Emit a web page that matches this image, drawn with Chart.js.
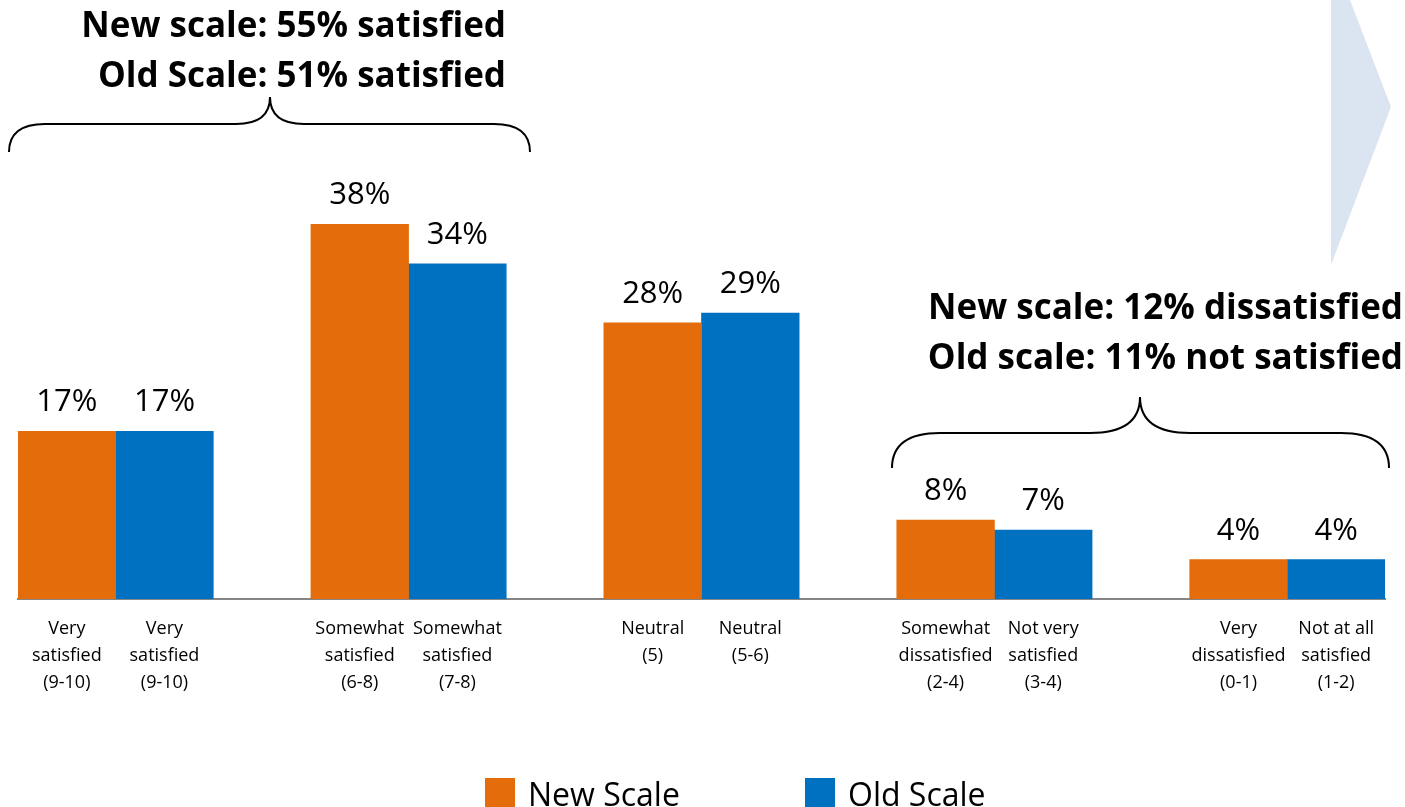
<!DOCTYPE html>
<html>
<head>
<meta charset="utf-8">
<script src="https://cdn.jsdelivr.net/npm/chart.js@4.4.1/dist/chart.umd.min.js"></script>
<style>
	body { margin: 0; background: #fff; }
	canvas { display: block; }
</style>
</head>
<body>
<canvas id="scaleChart" width="1405" height="807"></canvas>
<script>
const newScale = [17, 38, 28, 8, 4];
const oldScale = [17, 34, 29, 7, 4];
const newLabels = [
	["Very", "satisfied", "(9-10)"],
	["Somewhat", "satisfied", "(6-8)"],
	["Neutral", "(5)"],
	["Somewhat", "dissatisfied", "(2-4)"],
	["Very", "dissatisfied", "(0-1)"],
];
const oldLabels = [
	["Very", "satisfied", "(9-10)"],
	["Somewhat", "satisfied", "(7-8)"],
	["Neutral", "(5-6)"],
	["Not very", "satisfied", "(3-4)"],
	["Not at all", "satisfied", "(1-2)"],
];
const seriesNames = ["New Scale", "Old Scale"];
const seriesColors = ["#e46c0a", "#0070c0"];

// one slot per bar, plus an empty slot between groups
var slotLabels = [], newSlots = [], oldSlots = [];
for (var i = 0; i < newScale.length; i++) {
	slotLabels.push(newLabels[i], oldLabels[i]);
	newSlots.push(newScale[i], null);
	oldSlots.push(null, oldScale[i]);
	if (i < newScale.length - 1) {
		slotLabels.push("");
		newSlots.push(null);
		oldSlots.push(null);
	}
}

function brace(ctx, x1, x2, yEnd, yMid, yTip, tipX, r, tw) {
	ctx.beginPath();
	ctx.moveTo(x1, yEnd);
	ctx.quadraticCurveTo(x1, yMid, x1 + r, yMid);
	ctx.lineTo(tipX - tw, yMid);
	ctx.quadraticCurveTo(tipX, yMid, tipX, yTip);
	ctx.quadraticCurveTo(tipX, yMid, tipX + tw, yMid);
	ctx.lineTo(x2 - r, yMid);
	ctx.quadraticCurveTo(x2, yMid, x2, yEnd);
	ctx.stroke();
}

const extras = {
	id: "extras",
	beforeDraw(chart) {
		var ctx = chart.ctx;
		ctx.save();
		ctx.fillStyle = "#dbe5f1";
		ctx.beginPath();
		ctx.moveTo(1331, 0);
		ctx.lineTo(1350, 0);
		ctx.lineTo(1391, 107);
		ctx.lineTo(1331, 265);
		ctx.closePath();
		ctx.fill();
		ctx.restore();
	},
	afterDraw(chart) {
		var ctx = chart.ctx;
		ctx.save();
		// value labels
		ctx.fillStyle = "#000";
		ctx.font = "31px 'Open Sans'";
		ctx.textAlign = "center";
		ctx.textBaseline = "alphabetic";
		chart.data.datasets.forEach((ds, d) => {
			chart.getDatasetMeta(d).data.forEach((bar, j) => {
				if (ds.data[j] == null) return;
				ctx.fillText(ds.data[j] + "%", bar.x, bar.y - 20);
			});
		});
		// braces
		ctx.strokeStyle = "#000";
		ctx.lineWidth = 2;
		brace(ctx, 9, 530, 152, 124, 97, 270, 36, 34);
		brace(ctx, 892, 1389, 468, 433, 397, 1140, 48, 50);
		// summary text
		ctx.font = "bold 35px 'Open Sans'";
		ctx.textAlign = "right";
		ctx.fillText("New scale: 55% satisfied", 506, 37);
		ctx.fillText("Old Scale: 51% satisfied", 506, 87);
		ctx.fillText("New scale: 12% dissatisfied", 1403, 319);
		ctx.fillText("Old scale: 11% not satisfied", 1403, 369);
		// legend
		ctx.font = "32px 'Open Sans'";
		ctx.textAlign = "left";
		var lx = [485, 805];
		chart.data.datasets.forEach((ds, d) => {
			ctx.fillStyle = ds.backgroundColor;
			ctx.fillRect(lx[d], 778, 30, 29);
			ctx.fillStyle = "#000";
			ctx.fillText(ds.label, lx[d] + 43, 806);
		});
		ctx.restore();
	}
};

const chart = new Chart(document.getElementById("scaleChart").getContext("2d"), {
	type: "bar",
	data: {
		labels: slotLabels,
		datasets: [{
			label: seriesNames[0],
			data: newSlots,
			backgroundColor: seriesColors[0],
			skipNull: true,
		}, {
			label: seriesNames[1],
			data: oldSlots,
			backgroundColor: seriesColors[1],
			skipNull: true,
		}],
	},
	options: {
		responsive: false,
		animation: false,
		layout: { padding: { left: 18, right: 20, top: 106, bottom: 95 } },
		datasets: { bar: { barPercentage: 1, categoryPercentage: 1 } },
		plugins: {
			legend: { display: false },
			tooltip: { enabled: false },
		},
		scales: {
			x: {
				grid: { display: false, drawTicks: false },
				border: { display: true, color: "#868686", width: 2 },
				ticks: {
					color: "#000",
					font: { family: "Open Sans", size: 18, lineHeight: 1.5 },
					padding: 16,
					autoSkip: false,
					maxRotation: 0,
				},
			},
			y: { display: false, min: 0, max: 50 },
		},
	},
	plugins: [extras],
});
</script>
</body>
</html>
